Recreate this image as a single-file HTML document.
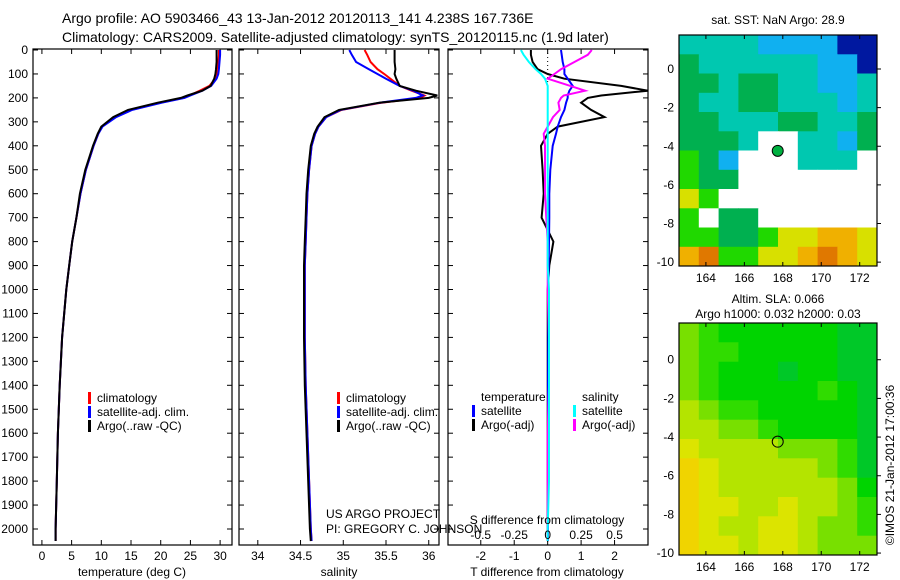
<!DOCTYPE html>
<html><head><meta charset="utf-8"><style>
body{margin:0;background:#fff}
svg{display:block;font-family:"Liberation Sans",sans-serif}
</style></head><body>
<svg id="s" width="900" height="580" xmlns="http://www.w3.org/2000/svg">
<text x="62" y="23" font-size="14">Argo profile: AO 5903466_43 13-Jan-2012 20120113_141 4.238S 167.736E</text>
<text x="62" y="42" font-size="14">Climatology: CARS2009. Satellite-adjusted climatology: synTS_20120115.nc (1.9d later)</text>
</svg>
<script>
// ---- data ----
const depths   = [0,20,50,80,100,120,150,170,190,200,220,250,280,320,350,400,500,600,700,800,900,1000,1200,1400,1600,1800,2000,2050];
const tempArgo = [29.4,29.4,29.4,29.3,29.2,29.0,28.4,27.0,24.5,23.4,19.5,14.5,12.0,10.0,9.4,8.6,7.3,6.4,5.8,5.1,4.6,4.1,3.4,3.0,2.7,2.5,2.3,2.3];
const tempClim = [29.8,29.8,29.7,29.6,29.5,29.2,28.2,26.6,24.8,23.8,20.0,15.0,12.3,10.1,9.5,8.7,7.4,6.5,5.8,5.1,4.6,4.1,3.4,3.0,2.7,2.5,2.3,2.3];
const tempSat  = [30.0,30.0,29.9,29.8,29.7,29.4,28.5,27.0,25.0,24.0,20.2,15.2,12.5,10.2,9.5,8.7,7.4,6.5,5.8,5.1,4.6,4.1,3.4,3.0,2.7,2.5,2.3,2.3];
const salArgo  = [35.60,35.60,35.60,35.61,35.60,35.62,35.66,35.85,36.10,36.00,35.42,34.95,34.78,34.70,34.66,34.62,34.59,34.57,34.56,34.55,34.54,34.54,34.54,34.55,34.57,34.59,34.61,34.62];
const salClim  = [35.25,35.28,35.32,35.40,35.48,35.55,35.66,35.80,35.95,35.90,35.45,34.98,34.80,34.71,34.67,34.63,34.60,34.58,34.57,34.56,34.55,34.55,34.55,34.56,34.58,34.60,34.62,34.63];
const salSat   = [35.07,35.10,35.15,35.30,35.40,35.50,35.66,35.82,35.93,35.85,35.43,34.97,34.80,34.71,34.67,34.63,34.60,34.58,34.57,34.56,34.55,34.55,34.55,34.56,34.58,34.60,34.62,34.63];
const dTArgo   = [-0.5,-0.5,-0.45,-0.3,0.0,0.5,2.2,3.0,1.6,1.2,1.0,1.3,1.7,0.3,0.0,-0.2,-0.15,-0.12,-0.18,0.17,0.05,0.0,0.0,0.0,0.0,0.0,0.0,0.0];
const dTSat    = [0.4,0.42,0.45,0.5,0.5,0.6,0.75,0.65,0.6,0.6,0.55,0.5,0.4,0.3,0.25,0.15,0.08,0.05,0.05,0.04,0.03,0.02,0.02,0.01,0.01,0.01,0.01,0.01];
const dSSat    = [-0.2,-0.18,-0.14,-0.09,-0.05,-0.02,0.0,0.0,0.0,0.0,0.0,0.0,0.0,0.0,0.0,0.0,0.0,0.0,0.0,0.0,0.0,0.01,0.01,0.01,0.01,0.01,0.0,0.0];
const dSArgo   = [0.33,0.3,0.2,0.1,0.05,0.0,0.17,0.28,0.12,0.1,0.08,0.09,0.04,0.0,-0.03,-0.02,-0.02,-0.02,-0.01,0.0,0.0,0.0,0.01,0.01,0.0,0.0,0.0,0.0];
const depthTicks = [0,100,200,300,400,500,600,700,800,900,1000,1100,1200,1300,1400,1500,1600,1700,1800,1900,2000];
const tempTicks = [0,5,10,15,20,25,30];
const salTicks = [34,34.5,35,35.5,36];
const dTTicks = [-2,-1,0,1,2];
const dSTicks = [-0.5,-0.25,0,0.25,0.5];
const lonTicks = [164,166,168,170,172];
const latTicks1 = [0,-2,-4,-6,-8,-10];
const sstGrid = ["ttttccccbb","gttttttccb","ggtggttcct","gttggtttct","ggtttggttg","gggtwwttcg","lgcwwwtttw","lggwwwwwww","ylwwwwwwww","lwggwwwwww","llgglyyooy","odllyyodoy"];
const slaGrid = ["lhggggggGG","lhhgggggGG","lhgggGggGG","lhggggghgG","mlhhgggggG","mmllhggggG","ymmmmlllhG","YymmmmmlhG","Yymmmmmmlg","Yyymmymmlh","Yymmyymllh","Yyymyymlll"];
const argoLon = 167.736, argoLat = -4.238;

const NS="http://www.w3.org/2000/svg", svg=document.getElementById('s');
function mk(tag,attrs,parent){const e=document.createElementNS(NS,tag);for(const k in attrs)e.setAttribute(k,attrs[k]);(parent||svg).appendChild(e);return e;}
function txt(x,y,s,anchor,size,name){const t=mk('text',{x:x,y:y,'font-size':size||12,'text-anchor':anchor||'start'});t.textContent=s;


return t;}
const Y0=49, Y1=545;
const dy = d => 50 + d*0.2395;
function panel(x0,x1,xmin,xmax,name){
  const sx=v=>x0+(v-xmin)/(xmax-xmin)*(x1-x0);
  const r=mk('rect',{x:x0,y:Y0,width:x1-x0,height:Y1-Y0,fill:'none',stroke:'#000','stroke-width':1.2});
  
  
  depthTicks.forEach(d=>{mk('line',{x1:x0,x2:x0+5,y1:dy(d),y2:dy(d),stroke:'#000'});mk('line',{x1:x1,x2:x1-5,y1:dy(d),y2:dy(d),stroke:'#000'});});
  return sx;
}
function line(sx,vals,color,name,w){
  const p=vals.map((v,i)=>(i?'L':'M')+sx(v).toFixed(1)+','+dy(depths[i]).toFixed(1)).join('');
  const e=mk('path',{d:p,fill:'none',stroke:color,'stroke-width':w||2});
  
  
}
depthTicks.forEach(d=>txt(28,dy(d)+4,String(d),'end',12,'depth-tick-label'));
// panel 1
const sT=panel(33,232,-1.5,32,'temperature-panel');
tempTicks.forEach(v=>{mk('line',{x1:sT(v),x2:sT(v),y1:Y1,y2:Y1-5,stroke:'#000'});mk('line',{x1:sT(v),x2:sT(v),y1:Y0,y2:Y0+5,stroke:'#000'});txt(sT(v),560,String(v),'middle',12,'temp-tick-label');});
line(sT,tempClim,'#f00','temp-climatology-line');
line(sT,tempSat,'#00f','temp-satellite-line');
line(sT,tempArgo,'#000','temp-argo-line');
txt(132,576,'temperature (deg C)','middle',12,'temp-axis-title');
// panel 2
const sS=panel(239,439,33.78,36.12,'salinity-panel');
salTicks.forEach(v=>{mk('line',{x1:sS(v),x2:sS(v),y1:Y1,y2:Y1-5,stroke:'#000'});mk('line',{x1:sS(v),x2:sS(v),y1:Y0,y2:Y0+5,stroke:'#000'});txt(sS(v),560,String(v),'middle',12,'sal-tick-label');});
line(sS,salClim,'#f00','sal-climatology-line');
line(sS,salSat,'#00f','sal-satellite-line');
line(sS,salArgo,'#000','sal-argo-line');
txt(339,576,'salinity','middle',12,'sal-axis-title');
function leg(x,y,c,s,name){mk('rect',{x:x,y:y-10,width:3,height:12,fill:c});txt(x+9,y,s,'start',12,name);}
[['climatology','#f00'],['satellite-adj. clim.','#00f'],['Argo(..raw -QC)','#000']].forEach((a,i)=>leg(88,402+i*14,a[1],a[0],'temp-legend-entry'));
[['climatology','#f00'],['satellite-adj. clim.','#00f'],['Argo(..raw -QC)','#000']].forEach((a,i)=>leg(337,402+i*14,a[1],a[0],'sal-legend-entry'));
txt(326,518,'US ARGO PROJECT','start',12,'project-label');
txt(326,533,'PI: GREGORY C. JOHNSON','start',12,'pi-label');
// panel 3
const sD=panel(448,648,-2.98,3.0,'difference-panel');
const sDS=v=>sD(v*4);
dTTicks.forEach(v=>{mk('line',{x1:sD(v),x2:sD(v),y1:Y1,y2:Y1-5,stroke:'#000'});mk('line',{x1:sD(v),x2:sD(v),y1:Y0,y2:Y0+5,stroke:'#000'});txt(sD(v),560,String(v),'middle',12,'dt-tick-label');});
mk('line',{x1:sD(0),x2:sD(0),y1:Y0,y2:Y1,stroke:'#000','stroke-dasharray':'1,3'});
line(sD,dTArgo,'#000','dt-argo-line');
line(sD,dTSat,'#00f','dt-satellite-line');
line(sDS,dSArgo,'#f0f','ds-argo-line');
line(sDS,dSSat,'#0ff','ds-satellite-line');
txt(547,524,'S difference from climatology','middle',12,'ds-axis-title');
dSTicks.forEach(v=>txt(sDS(v),539,String(v),'middle',12,'ds-tick-label'));
txt(547,576,'T difference from climatology','middle',12,'dt-axis-title');
txt(481,401,'temperature','start',12,'legend-temperature-header');
txt(582,401,'salinity','start',12,'legend-salinity-header');
leg(472,415,'#00f','satellite','legend-t-satellite');
leg(472,429,'#000','Argo(-adj)','legend-t-argo');
leg(573,415,'#0ff','satellite','legend-s-satellite');
leg(573,429,'#f0f','Argo(-adj)','legend-s-argo');
// maps
const pal1={b:'#0018a0',c:'#10b0f0',t:'#00c8b0',g:'#00b050',l:'#20d800',y:'#d8e000',o:'#f0b000',d:'#e07800',w:'#ffffff'};
const pal2={G:'#00c828',g:'#00d400',h:'#30dc00',l:'#78e000',m:'#b4e400',y:'#dce400',Y:'#f0d400'};
function map(x0,y0,x1,y1,latTop,latBot,grid,pal,name,fillCircle,latLabels){
  const lx=v=>x0+(v-162.6)/(172.9-162.6)*(x1-x0);
  const ly=v=>y0+(latTop-v)/(latTop-latBot)*(y1-y0);
  const g=mk('g',{});
  
  
  const rows=grid.length;
  grid.forEach((row,i)=>{const cols=row.length;for(let j=0;j<cols;j++){
    const la=latTop-(latTop-latBot)*i/rows, lo=162.6+10.3*j/cols;
    const cx=lx(lo), cy=ly(la), w=lx(162.6+10.3*(j+1)/cols)-cx+0.5, h=ly(latTop-(latTop-latBot)*(i+1)/rows)-cy+0.5;
    const c=mk('rect',{x:cx.toFixed(1),y:cy.toFixed(1),width:w.toFixed(1),height:h.toFixed(1),fill:pal[row[j]]},g);
    
    
  }});
  mk('rect',{x:x0,y:y0,width:x1-x0,height:y1-y0,fill:'none',stroke:'#000','stroke-width':1.2});
  lonTicks.forEach(v=>{mk('line',{x1:lx(v),x2:lx(v),y1:y0,y2:y0+4,stroke:'#000'});mk('line',{x1:lx(v),x2:lx(v),y1:y1,y2:y1-4,stroke:'#000'});txt(lx(v),y1+16,String(v),'middle',12,'lon-tick-label');});
  latLabels.forEach(v=>{mk('line',{x1:x1,x2:x1+4,y1:ly(v),y2:ly(v),stroke:'#000'});txt(x0-5,ly(v)+4,String(v),'end',12,'lat-tick-label');});
  const c=mk('circle',{cx:lx(argoLon),cy:ly(argoLat),r:5.5,fill:fillCircle,stroke:'#000','stroke-width':1});
  
  
}
map(679,35,877,266,1.76,-10.2,sstGrid,pal1,'sst-map','#00b040',latTicks1);
map(679,323,877,555,1.9,-10.1,slaGrid,pal2,'sla-map','none',latTicks1);
txt(778,24,'sat. SST: NaN Argo: 28.9','middle',12,'sst-map-title');
txt(778,303,'Altim. SLA: 0.066','middle',12,'sla-title');
txt(778,318,'Argo h1000: 0.032 h2000: 0.03','middle',12,'argo-height-title');
const cr=txt(0,0,'©IMOS 21-Jan-2012 17:00:36','middle',12,'credit-label');
cr.setAttribute('transform','translate(894,465) rotate(-90)');
</script>
</body></html>
